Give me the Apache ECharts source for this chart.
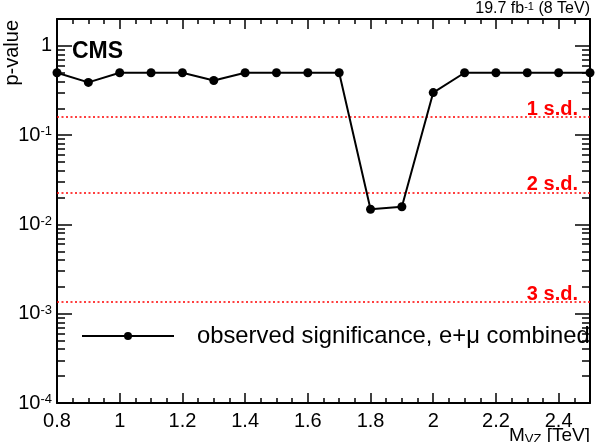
<!DOCTYPE html>
<html><head><meta charset="utf-8">
<script src="https://cdn.jsdelivr.net/npm/echarts@6/dist/echarts.min.js"></script>
<style>html,body{margin:0;padding:0;background:#fff}#c{width:603px;height:442px}</style>
</head><body><div id="c"></div>
<script>
// ---- data ----
const massTeV = [0.8, 0.9, 1.0, 1.1, 1.2, 1.3, 1.4, 1.5, 1.6, 1.7, 1.8, 1.9, 2.0, 2.1, 2.2, 2.3, 2.4, 2.5];
const pValues = [0.5, 0.39, 0.5, 0.5, 0.5, 0.41, 0.5, 0.5, 0.5, 0.5, 0.0148, 0.0158, 0.30, 0.5, 0.5, 0.5, 0.5, 0.5];
const sigmaLabels = ['1 s.d.', '2 s.d.', '3 s.d.'];
const sigmaPValues = [0.1587, 0.02275, 0.00135];
const seriesName = 'observed significance, e+\u03bc combined';
const xRange = [0.8, 2.5];
const yRange = [1e-4, 2];
const xMajorStep = 0.2;
const xMinorStep = 0.05;
const yMinorMultipliers = [2, 3, 4, 5, 6, 7, 8, 9];
const yDecadeExponents = [-4, -3, -2, -1, 0];

const FONT = '"Liberation Sans", Arial, Helvetica, sans-serif';
const W = 603, H = 442, G = { left: 57, right: 13, top: 19, bottom: 39 };
const plotW = W - G.left - G.right, plotH = H - G.top - G.bottom;
const xPerPx = (xRange[1] - xRange[0]) / plotW;
const decPerPx = (Math.log10(yRange[1]) - Math.log10(yRange[0])) / plotH;

// frame tick positions (data units) and their lengths in px
const xTickVals = [], xTickLens = [];
for (let i = 0; xRange[0] + i * xMinorStep <= xRange[1] + 1e-9; i++) {
  xTickVals.push(+(xRange[0] + i * xMinorStep).toFixed(4));
  xTickLens.push(i % 4 === 0 ? 10 : 5);
}
const yTickVals = [], yTickLens = [];
yDecadeExponents.forEach(n => {
  yTickVals.push(Math.pow(10, n)); yTickLens.push(15);
  if (n < 0) yMinorMultipliers.forEach(k => { yTickVals.push(k * Math.pow(10, n)); yTickLens.push(8); });
});

const TICK_LS = { type: 'solid', color: '#000', width: 1.5 };
const tickSegs = [];
function seg(a, b) { tickSegs.push([{ coord: a, lineStyle: TICK_LS, label: { show: false } }, { coord: b }]); }
yTickVals.forEach((v, i) => {
  const dx = yTickLens[i] * xPerPx;
  seg([xRange[0], v], [xRange[0] + dx, v]);
  seg([xRange[1] - dx, v], [xRange[1], v]);
});
xTickVals.forEach((v, i) => {
  const f = Math.pow(10, xTickLens[i] * decPerPx);
  seg([v, yRange[0]], [v, yRange[0] * f]);
  seg([v, yRange[1] / f], [v, yRange[1]]);
});

function yLabel(v) {
  const e = Math.round(Math.log10(v));
  const d = Math.pow(10, e);
  if (Math.abs(v - d) > 1e-6 * d) return '';
  if (e === 0) return '{n|1}';
  return '{n|10}{e|' + e + '}';
}
const yRich = {
  n: { fontFamily: FONT, fontSize: 20, color: '#000', lineHeight: 20 },
  e: { fontFamily: FONT, fontSize: 13, color: '#000', verticalAlign: 'top', lineHeight: 13, padding: [0, 0, 6, 0] }
};

const axisLineStyle = { show: true, lineStyle: { color: '#000', width: 2 } };
const noTick = { show: false };
const SD_LS = { type: [2, 2.5], color: '#ff0000', width: 1.5 };

const chart = echarts.init(document.getElementById('c'));
chart.setOption({
  animation: false,
  backgroundColor: '#fff',
  grid: { left: G.left, right: G.right, top: G.top, bottom: G.bottom, containLabel: false },
  xAxis: [{
    type: 'value', position: 'bottom', min: xRange[0], max: xRange[1], interval: xMajorStep,
    axisLine: axisLineStyle, axisTick: noTick, minorTick: noTick,
    splitLine: { show: false },
    axisLabel: { show: true, fontFamily: FONT, fontSize: 20, color: '#000', margin: 8, showMaxLabel: false }
  }, {
    type: 'value', position: 'top', min: xRange[0], max: xRange[1], interval: xMajorStep,
    axisLine: axisLineStyle, axisTick: noTick, minorTick: noTick,
    splitLine: { show: false },
    axisLabel: { show: false }
  }],
  yAxis: [{
    type: 'log', logBase: 10, position: 'left', min: yRange[0], max: yRange[1],
    axisLine: axisLineStyle, axisTick: noTick,
    splitLine: { show: false },
    axisLabel: { show: true, formatter: yLabel, rich: yRich, margin: 5, showMaxLabel: false }
  }, {
    type: 'log', logBase: 10, position: 'right', min: yRange[0], max: yRange[1],
    axisLine: axisLineStyle, axisTick: noTick,
    splitLine: { show: false },
    axisLabel: { show: false }
  }],
  legend: {
    data: [seriesName], left: 81, top: 324, padding: 0, selectedMode: false,
    itemWidth: 92, itemHeight: 10,
    textStyle: { fontFamily: FONT, fontSize: 23.8, color: '#000', padding: [0, 0, 0, 18] }
  },
  series: [{
    name: seriesName, type: 'line', xAxisIndex: 0, yAxisIndex: 0, clip: false,
    data: massTeV.map((m, i) => [m, pValues[i]]),
    symbol: 'circle', symbolSize: 9, showSymbol: true,
    itemStyle: { color: '#000' },
    lineStyle: { color: '#000', width: 2 },
    z: 5,
    markLine: {
      silent: true, symbol: 'none', animation: false, precision: 10,
      lineStyle: SD_LS,
      label: {
        position: 'insideEndTop', color: '#ff0000', fontFamily: FONT, fontWeight: 'bold', fontSize: 20,
        distance: [12, -2]
      },
      data: sigmaPValues.map((v, i) => ({ yAxis: v, lineStyle: SD_LS, label: { formatter: sigmaLabels[i] } })).concat(tickSegs)
    }
  }],
  graphic: [
    { type: 'text', x: 72, y: 63, style: { text: 'CMS', fontFamily: FONT, fontWeight: 'bold', fontSize: 23, fill: '#000', verticalAlign: 'bottom' } },
    { type: 'text', x: 590, y: 9, style: {
      text: '{a|19.7 fb}{s|-1}{a| (8 TeV)}', align: 'right', verticalAlign: 'middle',
      rich: { a: { fontFamily: FONT, fontSize: 16, fill: '#000' }, s: { fontFamily: FONT, fontSize: 11, fill: '#000', verticalAlign: 'top', padding: [0, 0, 4, 0] } }
    } },
    { type: 'text', x: 12, y: 20, rotation: Math.PI / 2, style: { text: 'p-value', fontFamily: FONT, fontSize: 20, fill: '#000', align: 'right', verticalAlign: 'middle' } },
    { type: 'text', x: 590, y: 436, style: {
      text: '{a|M}{b|VZ}{a| [TeV]}', align: 'right', verticalAlign: 'middle',
      rich: { a: { fontFamily: FONT, fontSize: 19, fill: '#000' }, b: { fontFamily: FONT, fontSize: 13, fill: '#000', verticalAlign: 'bottom', padding: [6, 0, 0, 0] } }
    } }
  ]
});
</script>
</body></html>
